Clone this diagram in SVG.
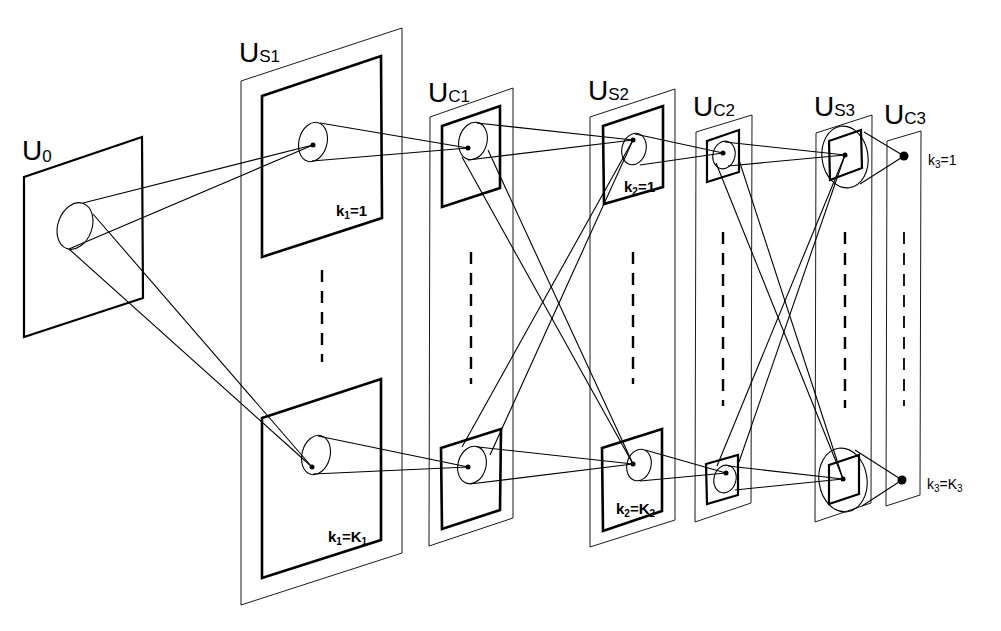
<svg xmlns="http://www.w3.org/2000/svg" width="1001" height="631" viewBox="0 0 1001 631">
<style>
.o{fill:none;stroke:#000;stroke-width:0.9}
.i{fill:none;stroke:#000;stroke-width:2.6}
.c{fill:none;stroke:#000;stroke-width:1.1}
.d{stroke:#000;stroke-width:2.4;stroke-dasharray:12,9}
.dot{fill:#000}
.l{font-family:"Liberation Sans",Arial,sans-serif;font-size:28px;fill:#000}
.s{font-family:"Liberation Sans",Arial,sans-serif;font-size:14px;fill:#000}
.k{font-family:"Liberation Sans",Arial,sans-serif;font-size:15px;font-weight:bold;fill:#000}
.ks{font-size:10px}
.ls{font-size:17px}
</style>
<rect width="1001" height="631" fill="#fff"/>
<g id="connectors">
<line class="c" x1="83" y1="203" x2="313" y2="145"/>
<line class="c" x1="69" y1="249" x2="313" y2="145"/>
<line class="c" x1="93" y1="214" x2="312" y2="467"/>
<line class="c" x1="69" y1="249" x2="312" y2="467"/>
<line class="c" x1="320" y1="123" x2="468" y2="148"/>
<line class="c" x1="312" y1="161" x2="468" y2="148"/>
<line class="c" x1="318" y1="436" x2="468" y2="467"/>
<line class="c" x1="313" y1="474" x2="468" y2="467"/>
<line class="c" x1="477" y1="123" x2="633" y2="140"/>
<line class="c" x1="468" y1="160" x2="633" y2="140"/>
<line class="c" x1="462" y1="157" x2="633" y2="464"/>
<line class="c" x1="488" y1="150" x2="633" y2="464"/>
<line class="c" x1="462" y1="447" x2="633" y2="140"/>
<line class="c" x1="490" y1="455" x2="633" y2="140"/>
<line class="c" x1="478" y1="447" x2="633" y2="464"/>
<line class="c" x1="470" y1="484" x2="633" y2="464"/>
<line class="c" x1="635" y1="134" x2="723" y2="153"/>
<line class="c" x1="640" y1="165" x2="723" y2="153"/>
<line class="c" x1="645" y1="450" x2="726" y2="473"/>
<line class="c" x1="640" y1="481" x2="726" y2="473"/>
<line class="c" x1="725" y1="142" x2="845" y2="155"/>
<line class="c" x1="728" y1="166" x2="845" y2="155"/>
<line class="c" x1="716" y1="163" x2="843" y2="479"/>
<line class="c" x1="739" y1="160" x2="843" y2="479"/>
<line class="c" x1="717" y1="466" x2="845" y2="155"/>
<line class="c" x1="739" y1="462" x2="845" y2="155"/>
<line class="c" x1="728" y1="466" x2="843" y2="479"/>
<line class="c" x1="735" y1="490" x2="843" y2="479"/>
<line class="c" x1="864" y1="132" x2="904" y2="156"/>
<line class="c" x1="860" y1="184" x2="904" y2="156"/>
<line class="c" x1="855" y1="450" x2="902" y2="480"/>
<line class="c" x1="862" y1="506" x2="902" y2="480"/>
</g>
<g id="U0">
<polygon class="i" points="24,177 142,137 143,298 24,337" style="stroke-width:2.2"/>
<ellipse class="c" cx="75" cy="226" rx="17" ry="24" transform="rotate(20 75 226)"/>
<text class="l" x="22" y="160">U<tspan class="ls" dy="2">0</tspan></text>
</g>
<g id="US1">
<polygon class="o" points="241,81 402,28 402,553 241,605"/>
<polygon class="i" points="262,96 381,56 382,218 262,257"/>
<polygon class="i" points="262,418 381,379 381,540 262,578"/>
<ellipse class="c" cx="313" cy="142" rx="14" ry="20" transform="rotate(15 313 142)"/>
<ellipse class="c" cx="316" cy="455" rx="14" ry="20" transform="rotate(15 316 455)"/>
<circle class="dot" cx="313" cy="145" r="2.5"/>
<circle class="dot" cx="312" cy="467" r="2.5"/>
<line class="d" x1="322" y1="270" x2="322" y2="362"/>
<text class="k" x="336" y="216">k<tspan class="ks" dy="3">1</tspan><tspan dy="-3">=1</tspan></text>
<text class="k" x="328" y="542">k<tspan class="ks" dy="3">1</tspan><tspan dy="-3">=K</tspan><tspan class="ks" dy="3">1</tspan></text>
<text class="l" x="239" y="62">U<tspan class="ls" dy="0">S1</tspan></text>
</g>
<g id="UC1">
<polygon class="o" points="430,117 513,88 513,518 429,546"/>
<polygon class="i" points="442,126 500,106 500,188 442,207"/>
<polygon class="i" points="441,448 501,429 500,510 442,529"/>
<ellipse class="c" cx="473" cy="141" rx="14" ry="19" transform="rotate(15 473 141)"/>
<ellipse class="c" cx="472" cy="465" rx="14" ry="19" transform="rotate(15 472 465)"/>
<circle class="dot" cx="468" cy="148" r="2.5"/>
<circle class="dot" cx="468" cy="467" r="2.5"/>
<line class="d" x1="471" y1="252" x2="471" y2="384"/>
<text class="l" x="428" y="102">U<tspan class="ls" dy="0">C1</tspan></text>
</g>
<g id="US2">
<polygon class="o" points="590,117 675,89 675,520 590,547"/>
<polygon class="i" points="603,126 663,106 663,187 604,204"/>
<polygon class="i" points="602,448 662,429 662,511 603,531"/>
<ellipse class="c" cx="634" cy="149" rx="12" ry="16" transform="rotate(15 634 149)"/>
<ellipse class="c" cx="639" cy="465" rx="12" ry="16" transform="rotate(15 639 465)"/>
<circle class="dot" cx="633" cy="140" r="2.5"/>
<circle class="dot" cx="633" cy="464" r="2.5"/>
<line class="d" x1="633" y1="252" x2="633" y2="384"/>
<text class="k" x="624" y="192">k<tspan class="ks" dy="3">2</tspan><tspan dy="-3">=1</tspan></text>
<text class="k" x="616" y="514">k<tspan class="ks" dy="3">2</tspan><tspan dy="-3">=K</tspan><tspan class="ks" dy="3">2</tspan></text>
<text class="l" x="588" y="100">U<tspan class="ls" dy="0">S2</tspan></text>
</g>
<g id="UC2">
<polygon class="o" points="696,132 752,115 751,503 695,522"/>
<polygon class="i" points="707,141 739,130 739,172 707,182" style="stroke-width:2.2"/>
<polygon class="i" points="706,464 738,455 738,495 707,504" style="stroke-width:2.2"/>
<ellipse class="c" cx="724" cy="155" rx="11" ry="14" transform="rotate(15 724 155)"/>
<ellipse class="c" cx="725" cy="479" rx="11" ry="14" transform="rotate(15 725 479)"/>
<circle class="dot" cx="723" cy="153" r="2.5"/>
<circle class="dot" cx="726" cy="473" r="2.5"/>
<line class="d" x1="723" y1="232" x2="723" y2="406"/>
<text class="l" x="693" y="116">U<tspan class="ls" dy="0">C2</tspan></text>
</g>
<g id="US3">
<polygon class="o" points="816,133 872,115 871,503 815,522"/>
<ellipse class="c" cx="845" cy="157" rx="23" ry="31" transform="rotate(-8 845 157)"/>
<ellipse class="c" cx="843" cy="480" rx="24" ry="32" transform="rotate(-8 843 480)"/>
<polygon class="i" points="829,141 861,130 862,168 830,180" style="stroke-width:2.2"/>
<polygon class="i" points="829,465 859,455 859,494 829,504" style="stroke-width:2.2"/>
<circle class="dot" cx="845" cy="155" r="2.5"/>
<circle class="dot" cx="843" cy="479" r="2.5"/>
<line class="d" x1="845" y1="232" x2="845" y2="408"/>
<text class="l" x="814" y="116">U<tspan class="ls" dy="0">S3</tspan></text>
</g>
<g id="UC3">
<polygon class="o" points="887,141 921,131 920,495 886,506"/>
<circle class="dot" cx="904" cy="156" r="4.5"/>
<circle class="dot" cx="902" cy="480" r="4.5"/>
<line class="d" x1="904" y1="232" x2="904" y2="406" style="stroke-width:1.8"/>
<text class="s" x="928" y="165">k<tspan class="ks" dy="3">3</tspan><tspan dy="-3">=1</tspan></text>
<text class="s" x="927" y="489">k<tspan class="ks" dy="3">3</tspan><tspan dy="-3">=K</tspan><tspan class="ks" dy="3">3</tspan></text>
<text class="l" x="884" y="124">U<tspan class="ls" dy="0">C3</tspan></text>
</g>
</svg>
